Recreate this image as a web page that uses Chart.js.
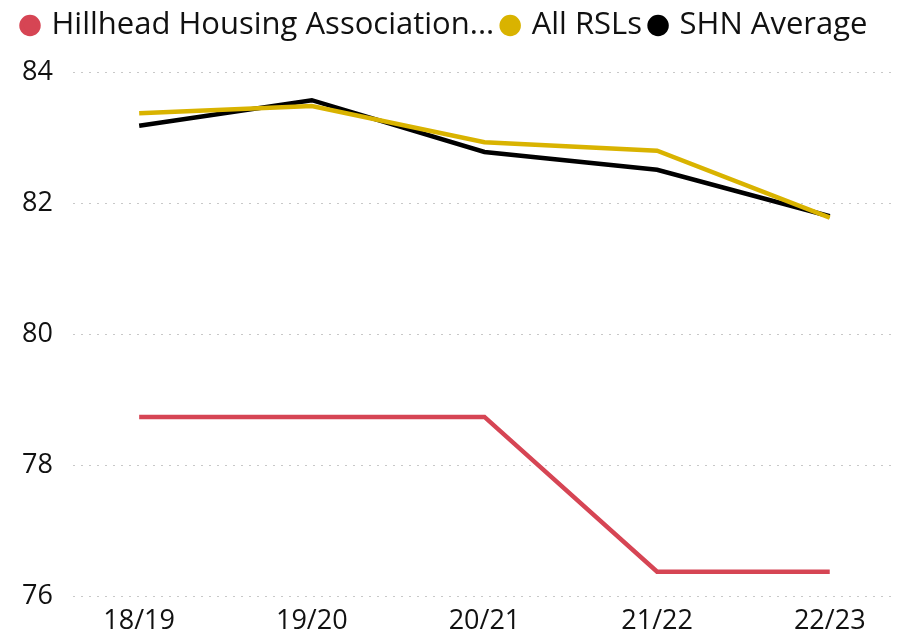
<!DOCTYPE html>
<html>
<head>
<meta charset="utf-8">
<script src="https://cdn.jsdelivr.net/npm/chart.js@4"></script>
<style>
  html, body { margin: 0; padding: 0; background: #fff; }
  #wrap { width: 902px; height: 638px; }
</style>
</head>
<body>
<div id="wrap"><canvas id="grafico"></canvas></div>
<script>
// dados
const anos = ["18/19", "19/20", "20/21", "21/22", "22/23"];
const hillhead = [78.74, 78.74, 78.74, 76.38, 76.38];
const allRsls = [83.37, 83.48, 82.93, 82.80, 81.78];
const shnMedia = [83.18, 83.57, 82.78, 82.51, 81.80];
const ticksY = [76, 78, 80, 82, 84];

function pontos(valores) {
    return valores.map(function (v, i) { return { x: i, y: v }; });
}

const fonte = "'Open Sans', 'Noto Sans', sans-serif";

function serie(nome, valores, cor) {
    return {
        label: nome,
        data: pontos(valores),
        borderColor: cor,
        backgroundColor: cor,
        borderWidth: 4.5,
        pointRadius: 0,
        pointHoverRadius: 0,
        tension: 0
    };
}

// legenda: mais espaço embaixo e deslocada para a direita
const ajusteLegenda = {
    id: "ajusteLegenda",
    beforeInit: function (chart) {
        const fitOriginal = chart.legend.fit;
        chart.legend.fit = function () {
            fitOriginal.bind(chart.legend)();
            this.height += 21;
        };
    },
    beforeDraw: function (chart) {
        chart.legend.left = 14;
    }
};

new Chart(document.getElementById("grafico"), {
    type: "line",
    data: {
        datasets: [
            serie("Hillhead Housing Association...", hillhead, "#D64554"),
            serie("All RSLs", allRsls, "#D9B300"),
            serie("SHN Average", shnMedia, "#000000")
        ]
    },
    plugins: [ajusteLegenda],
    options: {
        responsive: true,
        maintainAspectRatio: false,
        animation: false,
        layout: { padding: { left: 2, right: 7, top: 0, bottom: -9 } },
        plugins: {
            tooltip: { enabled: false },
            legend: {
                position: "top",
                align: "start",
                labels: {
                    usePointStyle: true,
                    pointStyle: "circle",
                    boxWidth: 12,
                    boxHeight: 12,
                    padding: 10,
                    color: "#111111",
                    font: { family: fonte, size: 31 }
                }
            }
        },
        scales: {
            x: {
                type: "linear",
                min: -0.384,
                max: 4.378,
                grid: { display: false, drawTicks: false },
                border: { display: false },
                ticks: {
                    stepSize: 1,
                    includeBounds: false,
                    padding: 9,
                    color: "#111111",
                    font: { family: fonte, size: 27 },
                    callback: function (v) {
                        return Number.isInteger(v) ? anos[v] : "";
                    }
                }
            },
            y: {
                min: ticksY[0],
                max: ticksY[ticksY.length - 1],
                afterBuildTicks: function (eixo) {
                    eixo.ticks = ticksY.map(function (v) { return { value: v }; });
                },
                grid: { color: "#C8C8C8", lineWidth: 1, drawTicks: false },
                border: { display: false, dash: [2, 6] },
                ticks: {
                    padding: 20,
                    color: "#111111",
                    font: { family: fonte, size: 27 }
                }
            }
        }
    }
});
</script>
</body>
</html>
